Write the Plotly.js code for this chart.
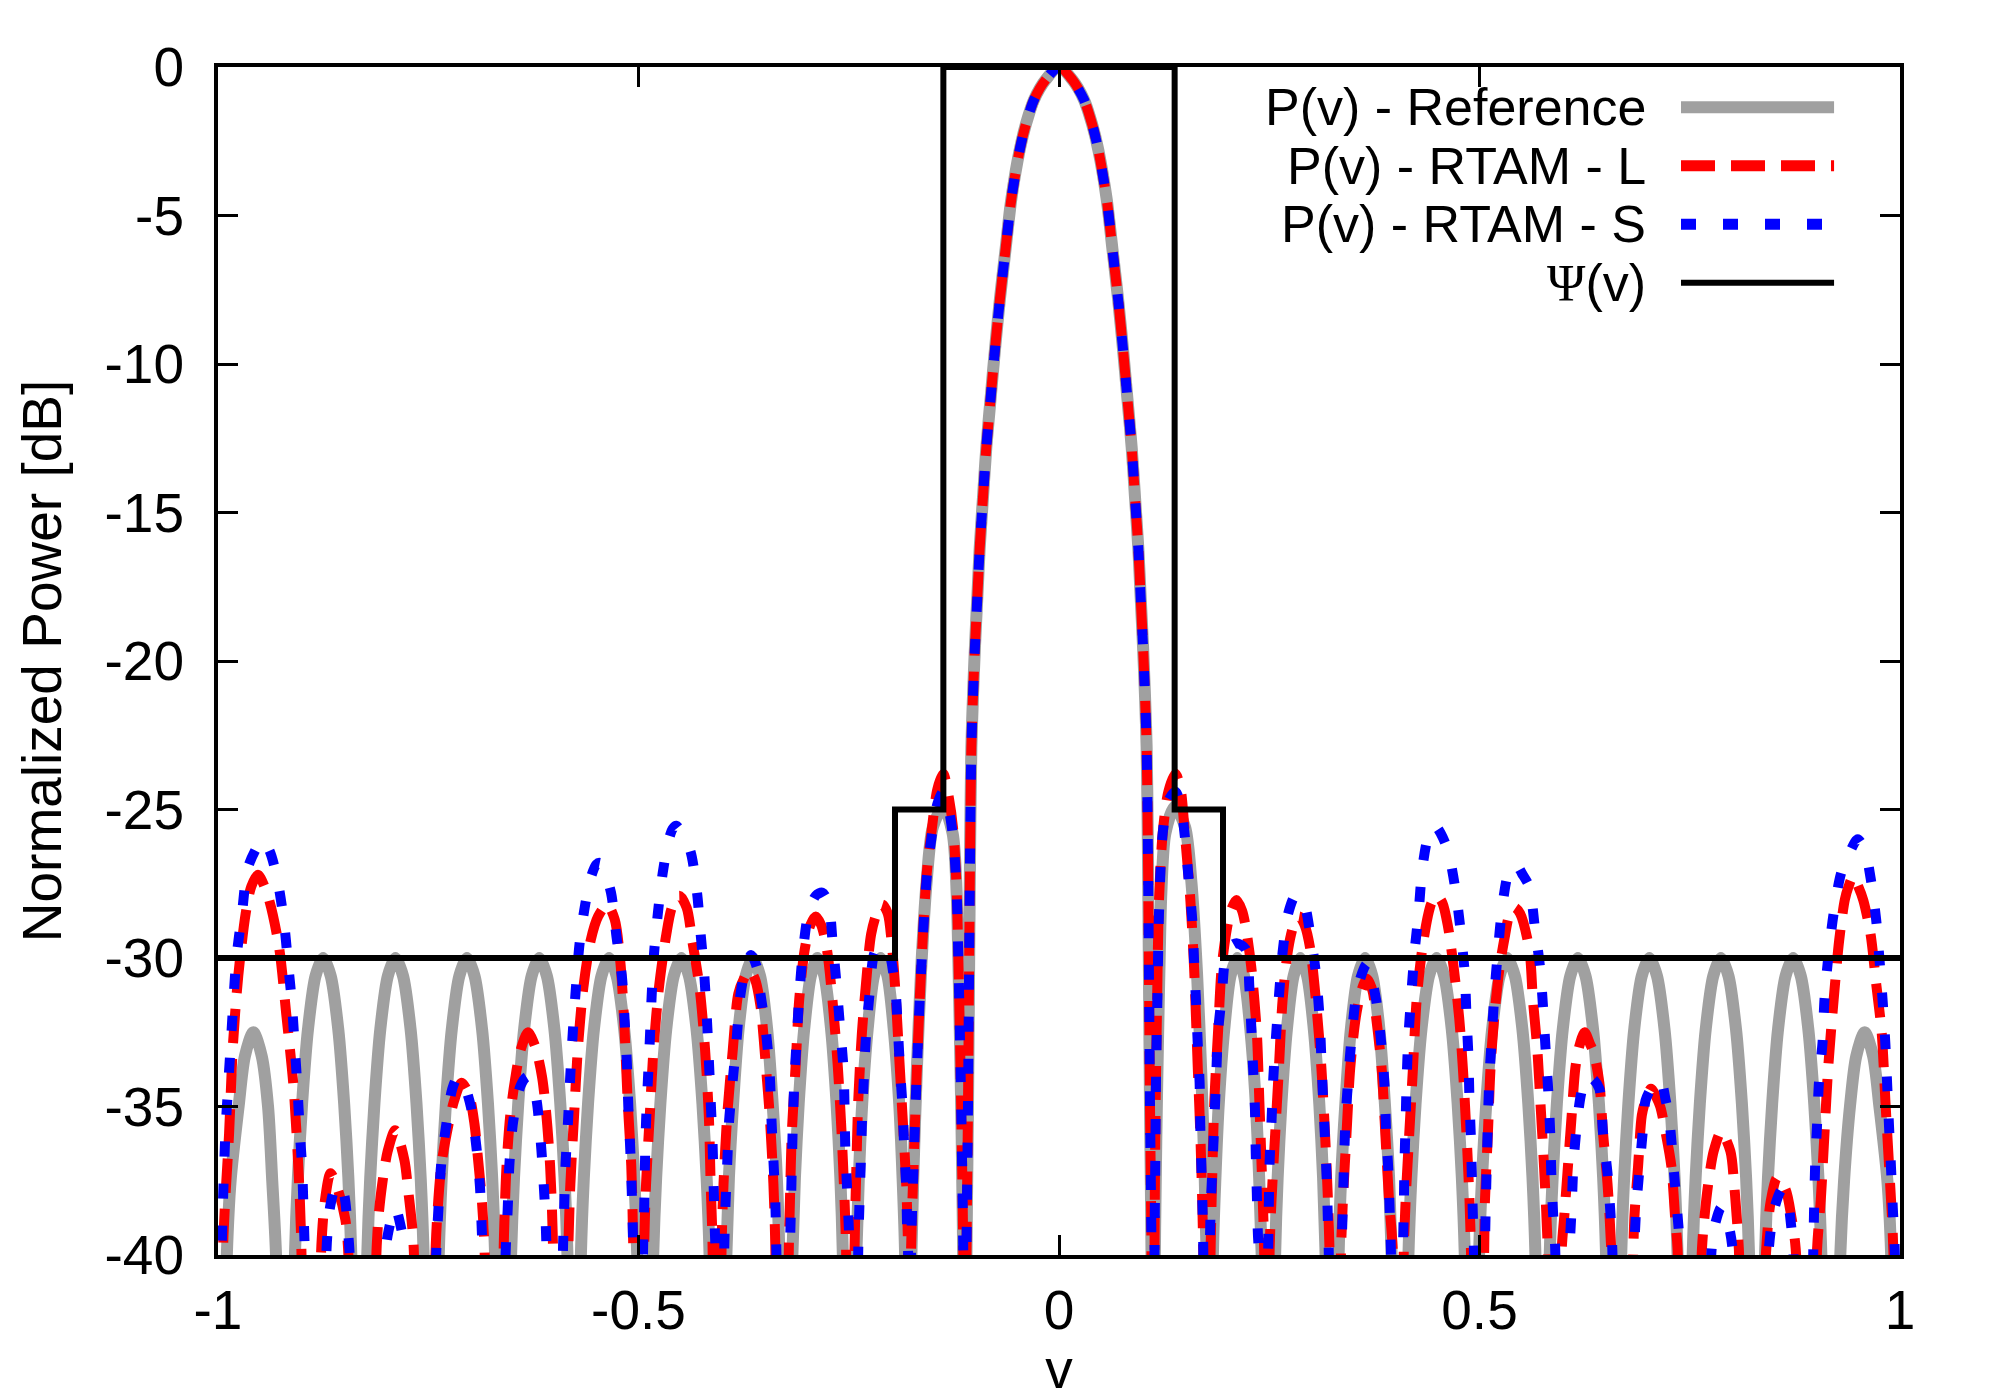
<!DOCTYPE html>
<html>
<head>
<meta charset="utf-8">
<script src="https://cdn.plot.ly/plotly-3.0.1.min.js"></script>
<style>
  html, body { margin: 0; padding: 0; background: #fff; }
  #chart { width: 2000px; height: 1400px; }
</style>
</head>
<body>
<div id="chart"></div>
<script>
// Axis ticks
const xTickVals = [-1, -0.5, 0, 0.5, 1];
const xTickText = ['-1', '-0.5', '0', '0.5', '1'];
const yTickVals = [0, -5, -10, -15, -20, -25, -30, -35, -40];
const yTickText = ['0', '-5', '-10', '-15', '-20', '-25', '-30', '-35', '-40'];

const seriesNames = ['P(v) - Reference', 'P(v) - RTAM - L', 'P(v) - RTAM - S', 'Ψ(v)'];

// Main lobe, shared by the three patterns: [v, dB]
const mainLobe = [
  [-0.1100, -40], [-0.1082, -35], [-0.1068, -30], [-0.1056, -26], [-0.1042, -22.9], [-0.1023, -21.2],
  [-0.0999, -19.5], [-0.0971, -17.85], [-0.0943, -16.2], [-0.0904, -14.5], [-0.0864, -12.8],
  [-0.0813, -11.15], [-0.0761, -9.5], [-0.0702, -7.8], [-0.0634, -6.1], [-0.0567, -4.45],
  [-0.0468, -2.8], [-0.0396, -1.95], [-0.0297, -1.1], [-0.0159, -0.43], [0, 0],
  [0.0159, -0.43], [0.0297, -1.1], [0.0396, -1.95], [0.0468, -2.8], [0.0567, -4.45],
  [0.0634, -6.1], [0.0702, -7.8], [0.0761, -9.5], [0.0813, -11.15], [0.0864, -12.8],
  [0.0904, -14.5], [0.0943, -16.2], [0.0971, -17.85], [0.0999, -19.5], [0.1023, -21.2],
  [0.1042, -22.9], [0.1056, -26], [0.1068, -30], [0.1082, -35], [0.1100, -40]
];

// P(v) - Reference, side lobes
const refLeft = [
  [-1.0, -55], [-0.9895, -40], [-0.985, -37.5], [-0.9755, -35], [-0.968, -33.3], [-0.958, -32.5], [-0.948, -33.3], [-0.9405, -35], [-0.9355, -37.5], [-0.931, -40], [-0.918, -55],
  [-0.9085, -40], [-0.905, -37.4], [-0.900, -34.9], [-0.893, -32.4], [-0.884, -30.6], [-0.875, -30], [-0.866, -30.6], [-0.857, -32.4], [-0.850, -34.9], [-0.845, -37.4], [-0.8415, -40], [-0.832, -55],
  [-0.8225, -40], [-0.819, -37.4], [-0.814, -34.9], [-0.807, -32.4], [-0.798, -30.6], [-0.789, -30], [-0.780, -30.6], [-0.771, -32.4], [-0.764, -34.9], [-0.759, -37.4], [-0.7555, -40], [-0.7465, -55],
  [-0.7375, -40], [-0.734, -37.4], [-0.729, -34.9], [-0.722, -32.4], [-0.713, -30.6], [-0.704, -30], [-0.695, -30.6], [-0.686, -32.4], [-0.679, -34.9], [-0.674, -37.4], [-0.6705, -40], [-0.661, -55],
  [-0.6515, -40], [-0.648, -37.4], [-0.643, -34.9], [-0.636, -32.4], [-0.627, -30.6], [-0.618, -30], [-0.609, -30.6], [-0.600, -32.4], [-0.593, -34.9], [-0.588, -37.4], [-0.5845, -40], [-0.5765, -55],
  [-0.5685, -40], [-0.565, -37.4], [-0.560, -34.9], [-0.553, -32.4], [-0.544, -30.6], [-0.535, -30], [-0.526, -30.6], [-0.517, -32.4], [-0.510, -34.9], [-0.505, -37.4], [-0.5015, -40], [-0.492, -55],
  [-0.4825, -40], [-0.479, -37.4], [-0.474, -34.9], [-0.467, -32.4], [-0.458, -30.6], [-0.449, -30], [-0.440, -30.6], [-0.431, -32.4], [-0.424, -34.9], [-0.419, -37.4], [-0.4155, -40], [-0.4065, -55],
  [-0.3955, -40], [-0.3925, -37.4], [-0.3875, -34.9], [-0.381, -32.4], [-0.3725, -30.6], [-0.364, -30], [-0.3555, -30.6], [-0.347, -32.4], [-0.3405, -34.9], [-0.3355, -37.4], [-0.3325, -40], [-0.3255, -55],
  [-0.317, -40], [-0.314, -37.4], [-0.3095, -34.9], [-0.303, -32.4], [-0.295, -30.6], [-0.287, -30], [-0.279, -30.6], [-0.271, -32.4], [-0.2645, -34.9], [-0.260, -37.4], [-0.257, -40], [-0.2495, -55],
  [-0.241, -40], [-0.238, -37.4], [-0.234, -34.9], [-0.2275, -32.4], [-0.220, -30.6], [-0.212, -30], [-0.204, -30.6], [-0.1965, -32.4], [-0.190, -34.9], [-0.186, -37.4], [-0.183, -40], [-0.1795, -55],
  [-0.1755, -40], [-0.1732, -37.3], [-0.1692, -33.9], [-0.1641, -30.5], [-0.1573, -27.4], [-0.1500, -25.6], [-0.1376, -24.9], [-0.1265, -25.8], [-0.1217, -27.8], [-0.1197, -30], [-0.1177, -32.8], [-0.1157, -36.1], [-0.1140, -40], [-0.112, -55]
];
const refRight = [
  [0.112, -55], [0.1140, -40], [0.1157, -36.1], [0.1177, -32.8], [0.1197, -30], [0.1217, -27.8], [0.1265, -25.8], [0.1376, -24.9], [0.1500, -25.6], [0.1573, -27.4], [0.1641, -30.5], [0.1692, -33.9], [0.1732, -37.3], [0.1755, -40], [0.1795, -55],
  [0.183, -40], [0.186, -37.4], [0.190, -34.9], [0.1965, -32.4], [0.204, -30.6], [0.212, -30], [0.220, -30.6], [0.2275, -32.4], [0.234, -34.9], [0.238, -37.4], [0.241, -40], [0.2495, -55],
  [0.257, -40], [0.260, -37.4], [0.2645, -34.9], [0.271, -32.4], [0.279, -30.6], [0.287, -30], [0.295, -30.6], [0.303, -32.4], [0.3095, -34.9], [0.314, -37.4], [0.317, -40], [0.3255, -55],
  [0.3325, -40], [0.3355, -37.4], [0.3405, -34.9], [0.347, -32.4], [0.3555, -30.6], [0.364, -30], [0.3725, -30.6], [0.381, -32.4], [0.3875, -34.9], [0.3925, -37.4], [0.3955, -40], [0.4065, -55],
  [0.4155, -40], [0.419, -37.4], [0.424, -34.9], [0.431, -32.4], [0.440, -30.6], [0.449, -30], [0.458, -30.6], [0.467, -32.4], [0.474, -34.9], [0.479, -37.4], [0.4825, -40], [0.4915, -55],
  [0.4995, -40], [0.503, -37.4], [0.508, -34.9], [0.515, -32.4], [0.524, -30.6], [0.533, -30], [0.542, -30.6], [0.551, -32.4], [0.558, -34.9], [0.563, -37.4], [0.5665, -40], [0.575, -55],
  [0.5835, -40], [0.587, -37.4], [0.592, -34.9], [0.599, -32.4], [0.608, -30.6], [0.617, -30], [0.626, -30.6], [0.635, -32.4], [0.642, -34.9], [0.647, -37.4], [0.6505, -40], [0.6595, -55],
  [0.6685, -40], [0.672, -37.4], [0.677, -34.9], [0.684, -32.4], [0.693, -30.6], [0.702, -30], [0.711, -30.6], [0.720, -32.4], [0.727, -34.9], [0.732, -37.4], [0.7355, -40], [0.7445, -55],
  [0.7535, -40], [0.757, -37.4], [0.762, -34.9], [0.769, -32.4], [0.778, -30.6], [0.787, -30], [0.796, -30.6], [0.805, -32.4], [0.812, -34.9], [0.817, -37.4], [0.8205, -40], [0.830, -55],
  [0.8395, -40], [0.843, -37.4], [0.848, -34.9], [0.855, -32.4], [0.864, -30.6], [0.873, -30], [0.882, -30.6], [0.891, -32.4], [0.898, -34.9], [0.903, -37.4], [0.9065, -40], [0.917, -55],
  [0.929, -40], [0.9335, -37.5], [0.9405, -35], [0.948, -33.3], [0.958, -32.5], [0.968, -33.3], [0.9755, -35], [0.985, -37.5], [0.9895, -40], [1.0, -55]
];

// P(v) - RTAM - L, side lobes
const rtamLLeft = [
  [-1.0, -48], [-0.9934, -39.3], [-0.9868, -35.9], [-0.9824, -33.0], [-0.9759, -30.6], [-0.9671, -28.5], [-0.9605, -27.6], [-0.9526, -27.2], [-0.9408, -27.9], [-0.9276, -29.6], [-0.9188, -31.9], [-0.9100, -34.4], [-0.9035, -37.6], [-0.9013, -39.3], [-0.889, -55],
  [-0.8771, -39.7], [-0.8728, -38.15], [-0.8662, -37.25], [-0.8574, -37.8], [-0.8486, -38.8], [-0.8455, -39.7], [-0.829, -55],
  [-0.8113, -39.7], [-0.8091, -38.7], [-0.8047, -37.6], [-0.7982, -36.5], [-0.7894, -35.8], [-0.7784, -36.8], [-0.7740, -37.8], [-0.7696, -38.9], [-0.7674, -39.7], [-0.754, -55],
  [-0.7411, -39.7], [-0.7389, -38.5], [-0.7345, -37.0], [-0.7280, -35.9], [-0.7192, -34.8], [-0.7104, -34.2], [-0.7016, -34.6], [-0.6950, -35.6], [-0.6907, -36.8], [-0.6863, -38.15], [-0.6832, -39.7], [-0.6715, -55],
  [-0.6599, -39.3], [-0.6569, -37.0], [-0.6525, -35.3], [-0.6468, -34.1], [-0.6402, -33.1], [-0.6314, -32.5], [-0.6226, -33.0], [-0.6147, -34.0], [-0.6095, -35.3], [-0.6051, -37.0], [-0.6020, -39.3], [-0.5926, -55],
  [-0.5832, -39.5], [-0.5810, -37.6], [-0.5766, -35.3], [-0.5722, -33.1], [-0.5656, -31.0], [-0.5568, -29.4], [-0.5480, -28.6], [-0.5371, -28.2], [-0.5283, -28.7], [-0.5217, -30.1], [-0.5173, -32.0], [-0.5129, -34.8], [-0.5086, -37.0], [-0.5064, -39.5], [-0.4998, -55],
  [-0.4932, -39.6], [-0.4910, -37.6], [-0.4866, -35.3], [-0.4822, -33.1], [-0.4757, -31.0], [-0.4669, -29.2], [-0.4603, -28.3], [-0.4515, -27.9], [-0.4428, -28.3], [-0.4362, -29.4], [-0.4274, -31.0], [-0.4208, -33.1], [-0.4164, -35.3], [-0.4142, -37.6], [-0.4120, -39.6], [-0.4066, -55],
  [-0.4011, -39.6], [-0.3989, -37.6], [-0.3945, -35.3], [-0.3879, -33.1], [-0.3813, -31.2], [-0.3747, -30.7], [-0.3681, -30.4], [-0.3616, -30.7], [-0.3550, -31.6], [-0.3484, -33.7], [-0.3440, -35.3], [-0.3396, -37.6], [-0.3374, -39.6], [-0.3293, -55],
  [-0.3212, -39.7], [-0.3199, -38.15], [-0.3177, -35.9], [-0.3133, -33.7], [-0.3089, -31.4], [-0.3023, -29.7], [-0.2958, -28.9], [-0.2892, -28.6], [-0.2826, -28.9], [-0.2760, -29.7], [-0.2694, -31.4], [-0.2629, -33.7], [-0.2585, -35.9], [-0.2550, -38.15], [-0.2532, -39.8], [-0.248, -55],
  [-0.2431, -39.8], [-0.2409, -37.0], [-0.2387, -34.8], [-0.2343, -32.5], [-0.2299, -31.0], [-0.2234, -29.2], [-0.2168, -28.5], [-0.2102, -28.2], [-0.2036, -28.5], [-0.1992, -29.4], [-0.1948, -31.0], [-0.1905, -33.1], [-0.1861, -35.3], [-0.1817, -37.6], [-0.1795, -39.8], [-0.1778, -55],
  [-0.1760, -40], [-0.1732, -37.25], [-0.1692, -33.9], [-0.1641, -30.5], [-0.1573, -27.15], [-0.1514, -25.7], [-0.1445, -24.3], [-0.1376, -23.8], [-0.1310, -24.6], [-0.1257, -25.7], [-0.1217, -27.7], [-0.1197, -30.0], [-0.1177, -32.8], [-0.1157, -36.1], [-0.1138, -40], [-0.112, -55]
];
const rtamLRight = [
  [0.112, -55], [0.1136, -39.8], [0.1145, -35.9], [0.1167, -31.4], [0.1189, -28.05], [0.1233, -25.8], [0.1300, -24.4], [0.1385, -23.8], [0.1445, -24.3], [0.1496, -25.8], [0.1562, -28.05], [0.1606, -30.3], [0.1650, -33.7], [0.1680, -35.9], [0.1715, -39.8], [0.176, -55],
  [0.1803, -39.8], [0.1825, -37.0], [0.1847, -34.8], [0.1891, -32.5], [0.1935, -30.3], [0.2000, -28.95], [0.2044, -28.4], [0.2110, -28.05], [0.2176, -28.4], [0.2220, -28.95], [0.2286, -30.3], [0.2352, -32.5], [0.2382, -34.8], [0.2409, -37.0], [0.2439, -39.8], [0.2472, -55],
  [0.2505, -39.8], [0.2527, -38.15], [0.2571, -35.9], [0.2615, -33.7], [0.2659, -31.4], [0.2725, -29.7], [0.2790, -28.9], [0.2856, -28.6], [0.2922, -28.9], [0.2988, -29.7], [0.3054, -31.4], [0.3120, -33.7], [0.3163, -35.9], [0.3198, -38.15], [0.3216, -39.8], [0.3285, -55],
  [0.3354, -39.8], [0.3376, -38.15], [0.3419, -35.9], [0.3463, -33.7], [0.3529, -32.0], [0.3595, -31.1], [0.3661, -30.7], [0.3727, -31.1], [0.3771, -32.0], [0.3836, -33.7], [0.3880, -35.9], [0.3924, -38.15], [0.3968, -39.8], [0.4034, -55],
  [0.4100, -39.8], [0.4122, -38.15], [0.4165, -35.9], [0.4209, -33.7], [0.4253, -31.4], [0.4319, -29.7], [0.4385, -28.6], [0.4429, -28.15], [0.4494, -27.9], [0.4560, -28.15], [0.4626, -28.95], [0.4692, -30.3], [0.4758, -32.0], [0.4802, -33.7], [0.4845, -35.9], [0.4881, -38.15], [0.4898, -39.8], [0.4977, -55],
  [0.5056, -39.8], [0.5065, -38.15], [0.5100, -35.9], [0.5131, -33.7], [0.5175, -32.0], [0.5240, -30.3], [0.5306, -29.2], [0.5350, -28.6], [0.5416, -28.3], [0.5482, -28.5], [0.5592, -29.7], [0.5635, -31.4], [0.5688, -33.1], [0.5723, -34.8], [0.5767, -37.0], [0.5811, -39.8], [0.5895, -55],
  [0.5978, -39.8], [0.6008, -38.7], [0.6052, -37.0], [0.6096, -35.3], [0.6140, -33.7], [0.6184, -33.0], [0.6250, -32.5], [0.6315, -32.9], [0.6359, -33.2], [0.6425, -34.2], [0.6469, -35.9], [0.6522, -37.6], [0.6566, -39.8], [0.6698, -55],
  [0.6829, -39.8], [0.6842, -38.7], [0.6886, -37.0], [0.6930, -35.3], [0.6974, -34.8], [0.7039, -34.4], [0.7105, -34.7], [0.7149, -35.0], [0.7215, -35.9], [0.7281, -37.0], [0.7325, -38.7], [0.7355, -39.8], [0.75, -55],
  [0.7645, -39.8], [0.7676, -38.7], [0.7720, -37.6], [0.7785, -36.5], [0.7873, -35.85], [0.7983, -36.5], [0.8027, -37.6], [0.8058, -38.7], [0.8084, -39.8], [0.8246, -55],
  [0.8409, -39.8], [0.8465, -38.15], [0.8540, -37.4], [0.8641, -37.8], [0.8707, -38.7], [0.8760, -39.8], [0.8887, -55],
  [0.9014, -39.8], [0.9058, -38.15], [0.9102, -35.9], [0.9146, -33.7], [0.9211, -31.4], [0.9277, -29.4], [0.9343, -28.05], [0.9387, -27.6], [0.9444, -27.25], [0.9505, -27.6], [0.9563, -28.05], [0.9650, -29.2], [0.9716, -30.85], [0.9782, -32.5], [0.9826, -34.8], [0.9870, -37.0], [0.9914, -39.3], [1.0, -48]
];

// P(v) - RTAM - S, side lobes
const rtamSLeft = [
  [-1.0, -48], [-0.9956, -39.8], [-0.9934, -37.6], [-0.9912, -35.9], [-0.9877, -34.2], [-0.9846, -32.8], [-0.9816, -31.4], [-0.9781, -30.0], [-0.9715, -28.5], [-0.9649, -27.0], [-0.9561, -26.4], [-0.9473, -26.0], [-0.9386, -26.4], [-0.9298, -27.3], [-0.9219, -28.7], [-0.9166, -30.2], [-0.9122, -31.5], [-0.9087, -33.0], [-0.9057, -34.3], [-0.9026, -35.9], [-0.8999, -37.1], [-0.8982, -38.6], [-0.8969, -39.8], [-0.8838, -55],
  [-0.8706, -39.6], [-0.8662, -38.3], [-0.8587, -37.6], [-0.8508, -37.9], [-0.8455, -39.2], [-0.8438, -39.8], [-0.822, -55],
  [-0.8004, -39.8], [-0.7973, -39.2], [-0.7894, -38.4], [-0.7815, -39.2], [-0.7784, -39.8], [-0.7593, -55],
  [-0.7402, -39.7], [-0.7376, -38.3], [-0.7345, -36.9], [-0.7280, -35.5], [-0.7214, -34.4], [-0.7148, -34.0], [-0.7069, -34.3], [-0.6994, -35.0], [-0.6928, -36.35], [-0.6885, -37.7], [-0.6863, -39.2], [-0.6854, -39.8], [-0.6716, -55],
  [-0.6577, -39.7], [-0.6556, -38.5], [-0.6534, -36.9], [-0.6490, -35.5], [-0.6402, -34.3], [-0.6323, -34.0], [-0.6226, -34.6], [-0.6174, -35.8], [-0.6139, -37.1], [-0.6108, -38.6], [-0.6095, -39.7], [-0.5996, -55],
  [-0.5897, -39.7], [-0.5884, -38.4], [-0.5867, -36.9], [-0.5840, -35.6], [-0.5810, -33.9], [-0.5779, -32.4], [-0.5744, -31.0], [-0.5700, -29.5], [-0.5634, -28.2], [-0.5568, -27.3], [-0.5502, -26.85], [-0.5459, -26.8], [-0.5415, -27.0], [-0.5327, -27.8], [-0.5261, -29.3], [-0.5195, -30.7], [-0.5165, -32.1], [-0.5138, -33.55], [-0.5121, -35.0], [-0.5094, -36.7], [-0.5077, -38.15], [-0.5064, -39.7], [-0.5005, -55],
  [-0.4945, -39.7], [-0.4932, -38.4], [-0.4923, -36.9], [-0.4910, -35.5], [-0.4888, -34.1], [-0.4866, -32.8], [-0.4844, -31.3], [-0.4814, -29.8], [-0.4770, -28.5], [-0.4713, -27.15], [-0.4647, -26.1], [-0.4594, -25.65], [-0.4550, -25.55], [-0.4493, -25.75], [-0.4383, -26.4], [-0.4304, -27.8], [-0.4261, -29.2], [-0.4217, -30.6], [-0.4186, -32.1], [-0.4164, -33.4], [-0.4142, -34.8], [-0.4120, -36.2], [-0.4107, -37.6], [-0.4094, -39.05], [-0.4085, -39.8], [-0.4033, -55],
  [-0.3980, -39.7], [-0.3967, -38.4], [-0.3945, -36.9], [-0.3923, -35.5], [-0.3879, -34.1], [-0.3835, -32.8], [-0.3791, -31.3], [-0.3725, -30.3], [-0.3660, -29.9], [-0.3594, -30.3], [-0.3550, -31.2], [-0.3484, -32.5], [-0.3440, -33.9], [-0.3418, -35.5], [-0.3396, -36.8], [-0.3374, -38.15], [-0.3361, -39.8], [-0.328, -55],
  [-0.3199, -39.8], [-0.3190, -38.7], [-0.3177, -37.0], [-0.3164, -35.5], [-0.3146, -34.1], [-0.3120, -32.8], [-0.3089, -31.3], [-0.3045, -29.8], [-0.2980, -28.5], [-0.2892, -27.9], [-0.2813, -27.8], [-0.2738, -28.2], [-0.2694, -29.4], [-0.2651, -30.7], [-0.2607, -32.2], [-0.2563, -33.7], [-0.2550, -35.0], [-0.2541, -36.4], [-0.2519, -37.8], [-0.2497, -39.2], [-0.2488, -39.8], [-0.2438, -55],
  [-0.2387, -39.8], [-0.2374, -38.4], [-0.2357, -36.9], [-0.2343, -35.5], [-0.2321, -34.1], [-0.2299, -32.8], [-0.2256, -31.3], [-0.2190, -29.8], [-0.2111, -29.6], [-0.2036, -29.7], [-0.1948, -31.0], [-0.1918, -32.3], [-0.1891, -33.7], [-0.1861, -35.0], [-0.1839, -36.5], [-0.1817, -37.7], [-0.1804, -39.3], [-0.1795, -39.8], [-0.1778, -55],
  [-0.1760, -40], [-0.1732, -37.25], [-0.1692, -33.9], [-0.1641, -30.5], [-0.1573, -27.3], [-0.1514, -25.9], [-0.1445, -24.8], [-0.1376, -24.4], [-0.1310, -25.0], [-0.1257, -26.0], [-0.1217, -27.8], [-0.1197, -30.0], [-0.1177, -32.8], [-0.1157, -36.1], [-0.1138, -40], [-0.112, -55]
];
const rtamSRight = [
  [0.112, -55], [0.1136, -39.7], [0.1145, -36.8], [0.1154, -33.9], [0.1171, -31.2], [0.1189, -28.5], [0.1233, -25.8], [0.1300, -24.7], [0.1385, -24.4], [0.1450, -24.9], [0.1496, -25.9], [0.1540, -27.3], [0.1584, -28.7], [0.1606, -30.1], [0.1628, -31.4], [0.1650, -32.9], [0.1672, -34.2], [0.1680, -35.7], [0.1693, -37.0], [0.1707, -38.5], [0.1715, -39.7], [0.1755, -55],
  [0.1794, -39.7], [0.1803, -38.5], [0.1825, -37.0], [0.1847, -35.5], [0.1869, -34.0], [0.1891, -32.5], [0.1935, -31.3], [0.1979, -30.0], [0.2044, -29.6], [0.2110, -29.5], [0.2220, -29.7], [0.2264, -31.0], [0.2286, -32.3], [0.2308, -33.7], [0.2330, -35.1], [0.2339, -36.5], [0.2352, -37.9], [0.2365, -39.3], [0.2374, -39.8], [0.2431, -55],
  [0.2488, -39.7], [0.2496, -38.15], [0.2505, -36.8], [0.2527, -35.5], [0.2549, -34.0], [0.2584, -32.5], [0.2615, -31.3], [0.2659, -29.8], [0.2725, -28.5], [0.2812, -27.9], [0.2900, -28.05], [0.2988, -29.2], [0.3054, -30.5], [0.3098, -32.0], [0.3120, -33.4], [0.3141, -34.8], [0.3163, -36.1], [0.3185, -37.6], [0.3199, -39.05], [0.3207, -39.8], [0.3285, -55],
  [0.3362, -39.6], [0.3376, -38.3], [0.3389, -36.9], [0.3406, -35.5], [0.3441, -34.0], [0.3485, -32.5], [0.3551, -31.0], [0.3661, -30.2], [0.3770, -31.4], [0.3836, -33.0], [0.3871, -34.3], [0.3889, -35.8], [0.3915, -37.1], [0.3933, -38.6], [0.3946, -39.8], [0.4018, -55],
  [0.4091, -39.7], [0.4100, -38.4], [0.4108, -36.9], [0.4122, -35.5], [0.4135, -34.0], [0.4152, -32.8], [0.4187, -31.3], [0.4231, -29.7], [0.4275, -28.5], [0.4319, -27.0], [0.4380, -26.0], [0.4429, -25.65], [0.4473, -25.55], [0.4538, -25.8], [0.4626, -26.4], [0.4714, -27.7], [0.4780, -29.2], [0.4824, -30.5], [0.4846, -32.0], [0.4868, -33.3], [0.4881, -34.8], [0.4898, -36.1], [0.4911, -37.6], [0.4925, -39.05], [0.4933, -39.7], [0.4999, -55],
  [0.5065, -39.7], [0.5074, -38.4], [0.5087, -36.9], [0.5100, -35.5], [0.5118, -34.0], [0.5144, -32.8], [0.5175, -31.3], [0.5218, -29.8], [0.5262, -28.5], [0.5328, -27.3], [0.5394, -26.9], [0.5438, -26.85], [0.5504, -27.15], [0.5592, -27.6], [0.5657, -28.95], [0.5723, -30.4], [0.5789, -33.2], [0.5820, -34.6], [0.5842, -36.0], [0.5855, -37.4], [0.5877, -38.7], [0.5899, -39.7], [0.5987, -55],
  [0.6074, -39.7], [0.6096, -38.4], [0.6118, -36.9], [0.6162, -35.5], [0.6206, -34.6], [0.6272, -33.95], [0.6359, -34.1], [0.6425, -34.4], [0.6469, -35.9], [0.6522, -37.25], [0.6557, -38.6], [0.6579, -39.8], [0.6710, -55],
  [0.6842, -39.7], [0.6864, -38.4], [0.6908, -36.9], [0.6952, -35.5], [0.6974, -34.8], [0.7061, -34.3], [0.7149, -34.1], [0.7215, -34.8], [0.7259, -35.5], [0.7303, -36.9], [0.7347, -38.4], [0.7382, -39.7], [0.7573, -55],
  [0.7763, -39.7], [0.7807, -38.9], [0.7873, -38.4], [0.7952, -38.9], [0.8005, -39.7], [0.8224, -55],
  [0.8443, -39.7], [0.8509, -38.4], [0.8597, -37.8], [0.8663, -38.15], [0.8707, -39.05], [0.8729, -39.7], [0.885, -55],
  [0.8970, -39.7], [0.8979, -38.4], [0.8992, -36.9], [0.9014, -35.6], [0.9036, -34.2], [0.9080, -32.8], [0.9102, -31.4], [0.9146, -30.0], [0.9211, -28.5], [0.9299, -27.15], [0.9409, -26.4], [0.9497, -26.0], [0.9585, -26.4], [0.9650, -27.3], [0.9716, -28.7], [0.9760, -30.2], [0.9795, -31.5], [0.9826, -32.9], [0.9848, -34.3], [0.9870, -35.7], [0.9892, -37.0], [0.9914, -38.4], [0.9936, -39.7], [1.0, -48]
];

// Psi(v) mask
const maskV = [-1, -0.195, -0.195, -0.1375, -0.1375, 0.1375, 0.1375, 0.195, 0.195, 1];
const maskDb = [-30, -30, -25, -25, 0, 0, -25, -25, -30, -30];

const FONT = 'Liberation Sans, Arial, Helvetica, sans-serif';

// join [v, dB] pieces into x / y arrays
function toXY(pieces) {
  const x = [], y = [];
  pieces.forEach(function (p) {
    p.forEach(function (pt) { x.push(pt[0]); y.push(pt[1]); });
  });
  return { x: x, y: y };
}

const ref = toXY([refLeft, mainLobe, refRight]);
const rtamL = toXY([rtamLLeft, mainLobe, rtamLRight]);
const rtamS = toXY([rtamSLeft, mainLobe, rtamSRight]);

const styles = [
  { color: '#a0a0a0', width: 12, dash: 'solid' },
  { color: '#ff0000', width: 10, dash: '34px,16px' },
  { color: '#0000ff', width: 10, dash: '15px,27px' },
  { color: '#000000', width: 6, dash: 'solid' }
];

const traces = [
  { x: ref.x, y: ref.y, name: seriesNames[0], mode: 'lines',
    line: { color: styles[0].color, width: styles[0].width, shape: 'spline', smoothing: 0.8 } },
  { x: rtamL.x, y: rtamL.y, name: seriesNames[1], mode: 'lines',
    line: { color: styles[1].color, width: styles[1].width, dash: styles[1].dash, shape: 'spline', smoothing: 0.8 } },
  { x: rtamS.x, y: rtamS.y, name: seriesNames[2], mode: 'lines',
    line: { color: styles[2].color, width: styles[2].width, dash: styles[2].dash, shape: 'spline', smoothing: 0.8 } },
  { x: maskV, y: maskDb, name: seriesNames[3], mode: 'lines',
    line: { color: styles[3].color, width: styles[3].width } }
];

// gnuplot-style key: text on the left, sample on the right.
// rows spaced just wide enough that the text boxes do not overlap
const keyRows = [0.9661, 0.9169, 0.8676, 0.8184];
const keyText = [seriesNames[0], seriesNames[1], seriesNames[2],
  '<span style="font-family:Liberation Serif">Ψ</span>(v)'];
const annotations = keyRows.map(function (yy, i) {
  return { xref: 'paper', yref: 'paper', x: 0.8496, y: yy, xanchor: 'right', yanchor: 'middle',
    borderpad: 0, text: keyText[i], showarrow: false, font: { family: FONT, size: 52, color: '#000' } };
});
const shapes = keyRows.map(function (yy, i) {
  return { type: 'line', xref: 'paper', yref: 'paper', x0: 0.8698, x1: 0.9608, y0: yy, y1: yy,
    line: { color: styles[i].color, width: i === 0 ? 12 : (i === 3 ? 6 : 11), dash: styles[i].dash } };
});

const axisCommon = {
  showgrid: false, zeroline: false, showline: true, linecolor: '#000', linewidth: 4,
  mirror: 'ticks', ticks: 'inside', ticklen: 20, tickwidth: 3, tickcolor: '#000',
  tickfont: { family: FONT, size: 55, color: '#000' }
};

const layout = {
  width: 2000, height: 1400,
  margin: { l: 218, r: 100, t: 67, b: 145 },
  paper_bgcolor: '#fff', plot_bgcolor: '#fff',
  showlegend: false, hovermode: false,
  font: { family: FONT, color: '#000' },
  xaxis: Object.assign({}, axisCommon, {
    range: [-1, 1], tickmode: 'array', tickvals: xTickVals, ticktext: xTickText,
    ticklabelstandoff: 4,
    title: { text: 'v', font: { family: FONT, size: 55, color: '#000' }, standoff: 12 }
  }),
  yaxis: Object.assign({}, axisCommon, {
    range: [-40, 0], tickmode: 'array', tickvals: yTickVals, ticktext: yTickText,
    ticklabelstandoff: 19,
    title: { text: 'Normalized Power [dB]', font: { family: FONT, size: 55, color: '#000' }, standoff: 26 }
  }),
  annotations: annotations,
  shapes: shapes
};

Plotly.newPlot('chart', traces, layout, { staticPlot: true, displayModeBar: false });
</script>
</body>
</html>
